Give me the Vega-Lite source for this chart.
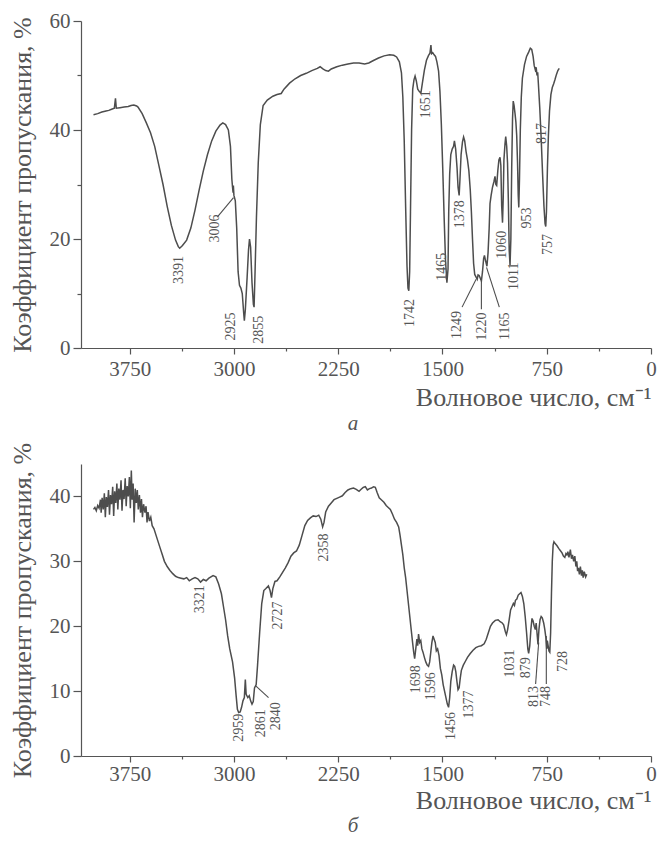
{
"$schema": "https://vega.github.io/schema/vega-lite/v6.json",
"padding": {"left": 8, "top": 10, "right": 2, "bottom": 8},
"background": "white",
"bounds": "flush",
"spacing": 116,
"config": {
  "view": {"stroke": null},
  "font": "Liberation Serif",
  "axis": {"domainColor": "#555", "tickColor": "#555", "labelColor": "#555", "titleColor": "#555", "labelFont": "Liberation Serif", "titleFont": "Liberation Serif", "labelFontSize": 21, "titleFontWeight": "normal", "grid": false, "domainWidth": 1.2, "tickWidth": 1.2, "labelFlush": false, "labelOverlap": false},
  "title": {"font": "Liberation Serif", "fontStyle": "italic", "fontWeight": "normal", "fontSize": 21, "color": "#555"}
},
"datasets": {
"specA": [
{"w":4010,"t":42.8},{"w":3980,"t":43.0},{"w":3950,"t":43.3},{"w":3920,"t":43.5},{"w":3900,"t":43.6},{"w":3880,"t":43.8},{"w":3860,"t":44.0},{"w":3852,"t":45.8},{"w":3846,"t":44.0},{"w":3820,"t":44.1},{"w":3790,"t":44.2},{"w":3760,"t":44.3},{"w":3740,"t":44.5},{"w":3720,"t":44.6},{"w":3700,"t":44.4},{"w":3690,"t":44.2},{"w":3660,"t":43.0},{"w":3630,"t":41.3},{"w":3600,"t":39.5},{"w":3570,"t":37.0},{"w":3540,"t":33.5},{"w":3510,"t":30.0},{"w":3480,"t":26.0},{"w":3450,"t":22.5},{"w":3420,"t":19.8},{"w":3400,"t":18.6},{"w":3390,"t":18.3},{"w":3370,"t":18.8},{"w":3340,"t":19.8},{"w":3310,"t":22.0},{"w":3280,"t":25.3},{"w":3250,"t":29.0},{"w":3220,"t":32.5},{"w":3190,"t":35.5},{"w":3160,"t":38.0},{"w":3130,"t":39.8},{"w":3100,"t":40.9},{"w":3080,"t":41.3},{"w":3060,"t":41.0},{"w":3040,"t":40.0},{"w":3025,"t":37.0},{"w":3015,"t":31.0},{"w":3010,"t":29.5},{"w":3006,"t":28.5},{"w":3004,"t":29.8},{"w":3000,"t":28.0},{"w":2990,"t":27.0},{"w":2980,"t":22.0},{"w":2970,"t":14.0},{"w":2960,"t":11.5},{"w":2950,"t":11.0},{"w":2940,"t":10.0},{"w":2930,"t":6.5},{"w":2925,"t":5.0},{"w":2918,"t":7.0},{"w":2905,"t":13.0},{"w":2895,"t":18.0},{"w":2888,"t":20.0},{"w":2880,"t":18.5},{"w":2870,"t":12.0},{"w":2860,"t":8.0},{"w":2855,"t":7.5},{"w":2848,"t":14.0},{"w":2838,"t":24.0},{"w":2825,"t":34.0},{"w":2810,"t":41.0},{"w":2790,"t":44.5},{"w":2760,"t":45.5},{"w":2720,"t":46.2},{"w":2690,"t":46.5},{"w":2660,"t":46.7},{"w":2640,"t":47.5},{"w":2600,"t":48.6},{"w":2560,"t":49.4},{"w":2520,"t":50.0},{"w":2480,"t":50.4},{"w":2440,"t":50.9},{"w":2400,"t":51.3},{"w":2380,"t":51.6},{"w":2360,"t":51.2},{"w":2340,"t":50.9},{"w":2320,"t":50.8},{"w":2300,"t":51.2},{"w":2260,"t":51.6},{"w":2220,"t":51.9},{"w":2180,"t":52.1},{"w":2140,"t":52.3},{"w":2100,"t":52.3},{"w":2060,"t":52.1},{"w":2030,"t":52.3},{"w":2000,"t":52.7},{"w":1960,"t":53.2},{"w":1920,"t":53.6},{"w":1880,"t":53.8},{"w":1850,"t":53.7},{"w":1830,"t":53.4},{"w":1810,"t":52.5},{"w":1795,"t":50.5},{"w":1785,"t":46.0},{"w":1775,"t":38.0},{"w":1765,"t":26.0},{"w":1755,"t":15.0},{"w":1748,"t":11.0},{"w":1742,"t":10.5},{"w":1736,"t":14.0},{"w":1730,"t":25.0},{"w":1722,"t":40.0},{"w":1714,"t":47.5},{"w":1705,"t":49.2},{"w":1697,"t":49.9},{"w":1688,"t":49.0},{"w":1678,"t":47.5},{"w":1665,"t":47.0},{"w":1655,"t":46.8},{"w":1645,"t":48.5},{"w":1630,"t":51.0},{"w":1615,"t":52.8},{"w":1600,"t":53.7},{"w":1590,"t":54.1},{"w":1583,"t":55.6},{"w":1578,"t":54.0},{"w":1570,"t":54.2},{"w":1560,"t":53.8},{"w":1550,"t":53.5},{"w":1540,"t":52.5},{"w":1528,"t":50.8},{"w":1518,"t":47.0},{"w":1508,"t":41.0},{"w":1498,"t":33.0},{"w":1488,"t":24.0},{"w":1478,"t":16.0},{"w":1468,"t":12.0},{"w":1460,"t":14.5},{"w":1455,"t":25.0},{"w":1448,"t":32.0},{"w":1440,"t":35.5},{"w":1430,"t":36.5},{"w":1420,"t":37.0},{"w":1414,"t":38.0},{"w":1405,"t":36.5},{"w":1395,"t":33.0},{"w":1388,"t":29.5},{"w":1380,"t":28.0},{"w":1374,"t":31.0},{"w":1366,"t":35.5},{"w":1356,"t":37.8},{"w":1348,"t":38.7},{"w":1340,"t":38.0},{"w":1330,"t":36.0},{"w":1320,"t":34.5},{"w":1310,"t":32.5},{"w":1300,"t":29.0},{"w":1292,"t":25.0},{"w":1284,"t":20.0},{"w":1276,"t":15.5},{"w":1268,"t":13.5},{"w":1258,"t":13.0},{"w":1250,"t":12.6},{"w":1244,"t":13.4},{"w":1236,"t":13.3},{"w":1228,"t":12.8},{"w":1220,"t":12.3},{"w":1212,"t":14.0},{"w":1204,"t":16.4},{"w":1198,"t":17.0},{"w":1190,"t":16.0},{"w":1180,"t":15.0},{"w":1172,"t":17.5},{"w":1164,"t":22.0},{"w":1158,"t":26.5},{"w":1150,"t":28.0},{"w":1140,"t":29.5},{"w":1130,"t":30.5},{"w":1122,"t":31.5},{"w":1116,"t":30.0},{"w":1110,"t":29.8},{"w":1102,"t":32.5},{"w":1094,"t":34.5},{"w":1086,"t":35.0},{"w":1080,"t":33.5},{"w":1074,"t":26.0},{"w":1068,"t":23.0},{"w":1063,"t":27.5},{"w":1058,"t":34.5},{"w":1050,"t":37.5},{"w":1045,"t":38.8},{"w":1038,"t":37.0},{"w":1032,"t":34.0},{"w":1026,"t":27.0},{"w":1020,"t":18.0},{"w":1014,"t":15.2},{"w":1008,"t":20.0},{"w":1002,"t":33.0},{"w":996,"t":42.0},{"w":991,"t":45.3},{"w":985,"t":44.5},{"w":978,"t":43.0},{"w":972,"t":41.5},{"w":966,"t":39.0},{"w":960,"t":34.0},{"w":955,"t":28.0},{"w":951,"t":25.8},{"w":946,"t":31.0},{"w":940,"t":40.0},{"w":933,"t":46.0},{"w":925,"t":49.5},{"w":910,"t":52.0},{"w":895,"t":53.5},{"w":880,"t":54.3},{"w":868,"t":55.0},{"w":858,"t":54.8},{"w":848,"t":53.5},{"w":840,"t":51.8},{"w":832,"t":51.0},{"w":826,"t":51.5},{"w":820,"t":50.0},{"w":815,"t":50.6},{"w":810,"t":48.5},{"w":800,"t":44.0},{"w":790,"t":38.5},{"w":780,"t":32.0},{"w":770,"t":26.0},{"w":762,"t":22.8},{"w":757,"t":22.3},{"w":752,"t":25.0},{"w":745,"t":33.0},{"w":738,"t":39.0},{"w":730,"t":43.5},{"w":720,"t":46.5},{"w":710,"t":47.8},{"w":700,"t":48.5},{"w":690,"t":49.3},{"w":680,"t":50.2},{"w":670,"t":50.9},{"w":660,"t":51.3}
],
"specB": [
{"w":4010,"t":38.0},{"w":4000,"t":38.3},{"w":3990,"t":37.8},{"w":3980,"t":38.6},{"w":3970,"t":38.2},{"w":3960,"t":39.5},{"w":3955,"t":37.5},{"w":3948,"t":39.8},{"w":3940,"t":38.0},{"w":3932,"t":40.5},{"w":3925,"t":36.8},{"w":3918,"t":39.9},{"w":3910,"t":38.4},{"w":3902,"t":41.0},{"w":3895,"t":37.2},{"w":3888,"t":40.2},{"w":3880,"t":38.8},{"w":3872,"t":41.5},{"w":3865,"t":37.0},{"w":3858,"t":40.8},{"w":3850,"t":39.0},{"w":3842,"t":42.0},{"w":3835,"t":38.0},{"w":3828,"t":41.2},{"w":3820,"t":39.5},{"w":3812,"t":42.5},{"w":3805,"t":37.8},{"w":3798,"t":41.0},{"w":3790,"t":39.6},{"w":3782,"t":42.8},{"w":3775,"t":38.5},{"w":3768,"t":41.6},{"w":3760,"t":40.0},{"w":3752,"t":43.0},{"w":3745,"t":38.2},{"w":3738,"t":44.0},{"w":3732,"t":39.5},{"w":3725,"t":42.0},{"w":3718,"t":36.0},{"w":3710,"t":41.2},{"w":3702,"t":39.0},{"w":3695,"t":41.0},{"w":3688,"t":38.0},{"w":3680,"t":40.2},{"w":3672,"t":37.5},{"w":3665,"t":39.6},{"w":3658,"t":36.8},{"w":3650,"t":38.8},{"w":3640,"t":37.5},{"w":3632,"t":38.5},{"w":3625,"t":36.0},{"w":3618,"t":37.6},{"w":3608,"t":36.2},{"w":3598,"t":36.8},{"w":3588,"t":35.5},{"w":3575,"t":35.0},{"w":3560,"t":34.0},{"w":3545,"t":33.0},{"w":3530,"t":32.0},{"w":3515,"t":31.0},{"w":3500,"t":30.0},{"w":3480,"t":29.2},{"w":3460,"t":28.6},{"w":3440,"t":28.1},{"w":3420,"t":27.7},{"w":3400,"t":27.5},{"w":3380,"t":27.4},{"w":3360,"t":27.3},{"w":3340,"t":27.5},{"w":3321,"t":27.0},{"w":3300,"t":27.3},{"w":3280,"t":27.5},{"w":3260,"t":27.3},{"w":3240,"t":26.8},{"w":3220,"t":27.2},{"w":3200,"t":27.0},{"w":3180,"t":27.4},{"w":3150,"t":27.8},{"w":3130,"t":27.6},{"w":3110,"t":26.5},{"w":3090,"t":25.0},{"w":3075,"t":23.0},{"w":3060,"t":21.0},{"w":3045,"t":18.5},{"w":3030,"t":16.5},{"w":3010,"t":14.5},{"w":2995,"t":12.0},{"w":2985,"t":9.5},{"w":2975,"t":7.2},{"w":2966,"t":6.7},{"w":2955,"t":6.8},{"w":2945,"t":7.5},{"w":2935,"t":8.5},{"w":2925,"t":9.0},{"w":2918,"t":11.8},{"w":2912,"t":9.5},{"w":2900,"t":9.0},{"w":2890,"t":9.3},{"w":2880,"t":8.5},{"w":2870,"t":8.0},{"w":2861,"t":8.4},{"w":2852,"t":10.5},{"w":2840,"t":11.0},{"w":2830,"t":14.0},{"w":2815,"t":19.0},{"w":2800,"t":23.5},{"w":2785,"t":25.5},{"w":2770,"t":25.8},{"w":2752,"t":26.2},{"w":2740,"t":25.5},{"w":2730,"t":24.4},{"w":2720,"t":25.8},{"w":2705,"t":26.9},{"w":2690,"t":27.0},{"w":2670,"t":27.6},{"w":2650,"t":28.3},{"w":2630,"t":29.0},{"w":2610,"t":29.8},{"w":2590,"t":30.8},{"w":2570,"t":31.3},{"w":2550,"t":31.6},{"w":2530,"t":32.5},{"w":2510,"t":34.0},{"w":2490,"t":35.5},{"w":2470,"t":36.3},{"w":2450,"t":36.7},{"w":2430,"t":37.0},{"w":2410,"t":36.9},{"w":2390,"t":37.1},{"w":2375,"t":36.5},{"w":2362,"t":35.3},{"w":2352,"t":36.0},{"w":2340,"t":37.6},{"w":2320,"t":38.5},{"w":2300,"t":39.0},{"w":2280,"t":39.5},{"w":2260,"t":39.7},{"w":2240,"t":39.9},{"w":2220,"t":40.1},{"w":2200,"t":40.6},{"w":2180,"t":41.0},{"w":2160,"t":41.2},{"w":2140,"t":41.3},{"w":2120,"t":41.1},{"w":2100,"t":40.8},{"w":2085,"t":41.1},{"w":2070,"t":41.4},{"w":2055,"t":41.5},{"w":2040,"t":41.0},{"w":2025,"t":41.2},{"w":2010,"t":41.3},{"w":1995,"t":41.5},{"w":1983,"t":41.4},{"w":1970,"t":40.6},{"w":1955,"t":39.8},{"w":1940,"t":39.5},{"w":1921,"t":39.1},{"w":1905,"t":38.6},{"w":1890,"t":38.3},{"w":1875,"t":38.0},{"w":1860,"t":37.3},{"w":1845,"t":36.5},{"w":1830,"t":36.0},{"w":1815,"t":35.3},{"w":1805,"t":34.0},{"w":1795,"t":32.5},{"w":1785,"t":31.0},{"w":1775,"t":29.0},{"w":1765,"t":27.5},{"w":1755,"t":25.5},{"w":1745,"t":23.5},{"w":1735,"t":21.5},{"w":1725,"t":19.5},{"w":1715,"t":17.5},{"w":1707,"t":16.0},{"w":1700,"t":15.0},{"w":1692,"t":16.5},{"w":1684,"t":18.0},{"w":1678,"t":17.0},{"w":1672,"t":18.8},{"w":1664,"t":17.5},{"w":1656,"t":17.8},{"w":1648,"t":16.5},{"w":1640,"t":16.0},{"w":1630,"t":15.2},{"w":1620,"t":14.5},{"w":1610,"t":14.0},{"w":1600,"t":13.8},{"w":1592,"t":14.5},{"w":1584,"t":16.0},{"w":1576,"t":17.5},{"w":1568,"t":18.5},{"w":1560,"t":18.0},{"w":1552,"t":17.5},{"w":1544,"t":16.2},{"w":1535,"t":16.5},{"w":1525,"t":15.5},{"w":1515,"t":13.5},{"w":1505,"t":12.5},{"w":1495,"t":11.0},{"w":1485,"t":10.0},{"w":1475,"t":9.0},{"w":1465,"t":8.0},{"w":1456,"t":7.5},{"w":1448,"t":9.0},{"w":1440,"t":11.5},{"w":1430,"t":13.0},{"w":1420,"t":14.0},{"w":1412,"t":13.8},{"w":1404,"t":13.0},{"w":1396,"t":11.5},{"w":1388,"t":10.2},{"w":1380,"t":10.5},{"w":1372,"t":12.0},{"w":1364,"t":13.2},{"w":1350,"t":14.0},{"w":1335,"t":14.6},{"w":1320,"t":15.2},{"w":1300,"t":15.8},{"w":1280,"t":16.3},{"w":1260,"t":16.7},{"w":1240,"t":16.9},{"w":1220,"t":17.0},{"w":1200,"t":17.3},{"w":1185,"t":18.0},{"w":1170,"t":19.0},{"w":1155,"t":20.0},{"w":1140,"t":20.5},{"w":1120,"t":20.9},{"w":1100,"t":21.0},{"w":1085,"t":20.7},{"w":1070,"t":20.5},{"w":1060,"t":20.2},{"w":1048,"t":19.2},{"w":1040,"t":18.7},{"w":1032,"t":19.4},{"w":1020,"t":21.0},{"w":1010,"t":22.5},{"w":1000,"t":23.0},{"w":990,"t":23.5},{"w":982,"t":23.2},{"w":975,"t":24.0},{"w":965,"t":24.2},{"w":955,"t":24.8},{"w":945,"t":25.0},{"w":935,"t":25.2},{"w":925,"t":24.6},{"w":915,"t":23.5},{"w":905,"t":21.5},{"w":895,"t":19.0},{"w":886,"t":16.5},{"w":880,"t":15.8},{"w":872,"t":17.0},{"w":864,"t":19.5},{"w":856,"t":21.2},{"w":848,"t":20.8},{"w":840,"t":20.0},{"w":832,"t":19.5},{"w":826,"t":20.5},{"w":820,"t":19.0},{"w":813,"t":17.2},{"w":806,"t":19.5},{"w":798,"t":21.0},{"w":790,"t":21.5},{"w":782,"t":21.3},{"w":772,"t":20.5},{"w":764,"t":19.5},{"w":756,"t":18.2},{"w":750,"t":16.5},{"w":746,"t":17.8},{"w":740,"t":17.0},{"w":734,"t":16.2},{"w":728,"t":16.0},{"w":722,"t":19.0},{"w":716,"t":25.0},{"w":710,"t":30.0},{"w":704,"t":32.5},{"w":698,"t":33.0},{"w":688,"t":32.7},{"w":676,"t":32.4},{"w":664,"t":32.0},{"w":650,"t":31.6},{"w":640,"t":31.3},{"w":630,"t":30.8},{"w":620,"t":30.6},{"w":612,"t":31.2},{"w":605,"t":31.0},{"w":598,"t":31.5},{"w":590,"t":30.6},{"w":580,"t":31.8},{"w":572,"t":30.4},{"w":565,"t":31.0},{"w":556,"t":30.0},{"w":548,"t":30.8},{"w":540,"t":29.2},{"w":534,"t":30.0},{"w":528,"t":28.5},{"w":522,"t":29.0},{"w":515,"t":28.0},{"w":508,"t":29.2},{"w":500,"t":27.8},{"w":494,"t":28.6},{"w":488,"t":27.5},{"w":480,"t":28.4},{"w":470,"t":27.6},{"w":462,"t":28.0}
],
"labA": [
{"w":3397,"t":16.9,"label":"3391"},{"w":3135,"t":24.5,"label":"3006"},{"w":3019,"t":6.5,"label":"2925"},{"w":2819,"t":5.9,"label":"2855"},{"w":1737,"t":9.0,"label":"1742"},{"w":1620,"t":47.3,"label":"1651"},{"w":1506,"t":17.5,"label":"1465"},{"w":1377,"t":27.1,"label":"1378"},{"w":1399,"t":6.8,"label":"1249"},{"w":1214,"t":6.5,"label":"1220"},{"w":1051,"t":6.5,"label":"1165"},{"w":1070,"t":21.5,"label":"1060"},{"w":984,"t":15.7,"label":"1011"},{"w":891,"t":25.8,"label":"953"},{"w":784,"t":41.3,"label":"817"},{"w":738,"t":20.9,"label":"757"}
],
"leadA": [
{"w1":3120,"t1":24.0,"w2":3003,"t2":27.6},{"w1":1359,"t1":7.5,"w2":1258,"t2":12.6},{"w1":1220,"t1":7.1,"w2":1220,"t2":12.3},{"w1":1091,"t1":7.5,"w2":1183,"t2":14.8}
],
"labB": [
{"w":3243,"t":26.3,"label":"3321"},{"w":2966,"t":6.5,"label":"2959"},{"w":2807,"t":7.2,"label":"2861"},{"w":2696,"t":8.3,"label":"2840"},{"w":2684,"t":23.8,"label":"2727"},{"w":2352,"t":34.3,"label":"2358"},{"w":1691,"t":14.0,"label":"1698"},{"w":1583,"t":12.9,"label":"1596"},{"w":1436,"t":6.8,"label":"1456"},{"w":1306,"t":10.1,"label":"1377"},{"w":1014,"t":16.4,"label":"1031"},{"w":898,"t":15.2,"label":"879"},{"w":839,"t":10.8,"label":"813"},{"w":753,"t":10.8,"label":"748"},{"w":630,"t":16.2,"label":"728"}
],
"leadB": [
{"w1":2751,"t1":9.0,"w2":2843,"t2":10.8},{"w1":830,"t1":11.1,"w2":808,"t2":17.5},{"w1":753,"t1":11.1,"w2":753,"t2":18.5}
]
},
"vconcat": [
{
  "width": 570, "height": 327,
  "title": {"text": "а", "orient": "bottom", "anchor": "middle", "dx": -13, "offset": 3},
  "layer": [
    {"data": {"name": "specA"}, "mark": {"type": "line", "color": "#4d4d4d", "strokeWidth": 1.5, "interpolate": "linear"},
     "encoding": {
       "x": {"field": "w", "type": "quantitative", "sort": null, "scale": {"domain": [0, 4100], "reverse": true, "nice": false, "zero": false},
             "axis": {"values": [3750,3375,3000,2625,2250,1875,1500,1125,750,375,0], "labelExpr": "datum.value % 750 === 0 ? format(datum.value, 'd') : ''",
                      "tickSize": {"condition": {"test": "datum.value % 750 !== 0", "value": 3}, "value": 6},
                      "labelPadding": 4, "title": "Волновое число, см⁻¹", "titleAnchor": "start", "titleAlign": "right", "titleFontSize": 26, "titlePadding": 5}},
       "y": {"field": "t", "type": "quantitative", "scale": {"domain": [0, 60], "nice": false},
             "axis": {"values": [0,10,20,30,40,50,60], "labelExpr": "datum.value % 20 === 0 ? datum.label : ''",
                      "tickSize": {"condition": {"test": "datum.value % 20 !== 0", "value": 4}, "value": 8},
                      "labelPadding": 3, "title": "Коэффициент пропускания, %", "titleFontSize": 26, "titlePadding": 14}}
     }},
    {"data": {"name": "leadA"}, "mark": {"type": "rule", "color": "#4d4d4d", "strokeWidth": 1.1},
     "encoding": {"x": {"field": "w1", "type": "quantitative"}, "y": {"field": "t1", "type": "quantitative"}, "x2": {"field": "w2"}, "y2": {"field": "t2"}}},
    {"data": {"name": "labA"}, "mark": {"type": "text", "angle": 270, "align": "right", "baseline": "middle", "fontSize": 14, "font": "Liberation Serif", "color": "#555"},
     "encoding": {"x": {"field": "w", "type": "quantitative"}, "y": {"field": "t", "type": "quantitative"}, "text": {"field": "label"}}}
  ]
},
{
  "width": 570, "height": 292,
  "title": {"text": "б", "orient": "bottom", "anchor": "middle", "dx": -13, "offset": 2},
  "layer": [
    {"data": {"name": "specB"}, "mark": {"type": "line", "color": "#4d4d4d", "strokeWidth": 1.5, "interpolate": "linear"},
     "encoding": {
       "x": {"field": "w", "type": "quantitative", "sort": null, "scale": {"domain": [0, 4100], "reverse": true, "nice": false, "zero": false},
             "axis": {"values": [3750,3375,3000,2625,2250,1875,1500,1125,750,375,0], "labelExpr": "datum.value % 750 === 0 ? format(datum.value, 'd') : ''",
                      "tickSize": {"condition": {"test": "datum.value % 750 !== 0", "value": 3}, "value": 6},
                      "labelPadding": 1, "title": "Волновое число, см⁻¹", "titleAnchor": "start", "titleAlign": "right", "titleFontSize": 26, "titlePadding": 3}},
       "y": {"field": "t", "type": "quantitative", "scale": {"domain": [0, 45], "nice": false},
             "axis": {"values": [0,5,10,15,20,25,30,35,40,45], "labelExpr": "datum.value % 10 === 0 ? datum.label : ''",
                      "tickSize": {"condition": {"test": "datum.value % 10 !== 0", "value": 4}, "value": 8},
                      "labelPadding": 3, "title": "Коэффициент пропускания, %", "titleFontSize": 26, "titlePadding": 14}}
     }},
    {"data": {"name": "leadB"}, "mark": {"type": "rule", "color": "#4d4d4d", "strokeWidth": 1.1},
     "encoding": {"x": {"field": "w1", "type": "quantitative"}, "y": {"field": "t1", "type": "quantitative"}, "x2": {"field": "w2"}, "y2": {"field": "t2"}}},
    {"data": {"name": "labB"}, "mark": {"type": "text", "angle": 270, "align": "right", "baseline": "middle", "fontSize": 14, "font": "Liberation Serif", "color": "#555"},
     "encoding": {"x": {"field": "w", "type": "quantitative"}, "y": {"field": "t", "type": "quantitative"}, "text": {"field": "label"}}}
  ]
}
]
}
